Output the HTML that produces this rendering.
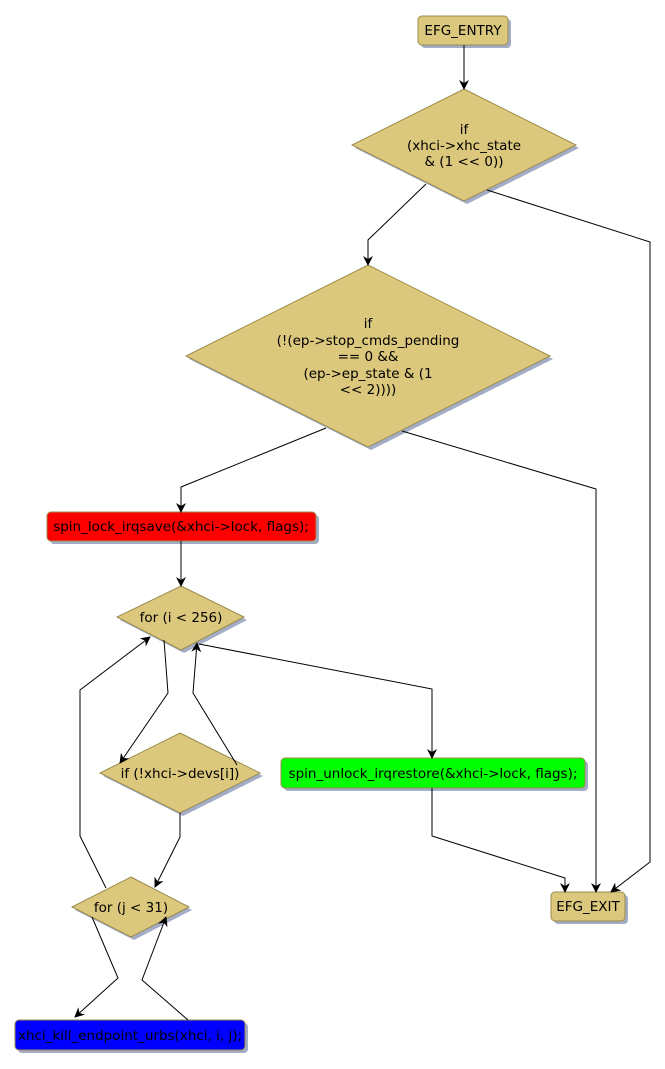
<!DOCTYPE html>
<html><head><meta charset="utf-8"><style>
html,body{margin:0;padding:0;background:#fff;}
svg{display:block;font-family:"DejaVu Sans","Liberation Sans",sans-serif;}
</style></head><body>
<svg width="665" height="1069" viewBox="0 0 665 1069" xmlns="http://www.w3.org/2000/svg">
<defs>
<marker id="a" markerWidth="10" markerHeight="10" refX="9" refY="5" orient="auto" markerUnits="userSpaceOnUse">
<path d="M0,0 L10,5 L0,10 L3,5 z" fill="#000"/>
</marker>
</defs>
<g fill="#a3adc6">
<rect x="421" y="19" width="90" height="29" rx="4"/>
<polygon points="467,92 579,148 467,204 355,148"/>
<polygon points="371,268 553,359 371,450 189,359"/>
<rect x="50" y="515" width="269" height="29" rx="4"/>
<polygon points="184,589 247,620 184,653 120,620"/>
<polygon points="183,736 263,776 183,816 103,776"/>
<rect x="284" y="761" width="304" height="30" rx="4"/>
<polygon points="134,880 192,910 134,940 75,910"/>
<rect x="18" y="1023" width="230" height="30" rx="4"/>
<rect x="554" y="895" width="74" height="29" rx="4"/>
</g>
<g stroke="#9c8a4e" stroke-width="1">
<rect x="418" y="16" width="90" height="29" rx="4" fill="#dbc87c"/>
<polygon points="464,89 576,145 464,201 352,145" fill="#dbc87c"/>
<polygon points="368,265 550,356 368,447 186,356" fill="#dbc87c"/>
<rect x="47" y="512" width="269" height="29" rx="4" fill="#ff0000"/>
<polygon points="181,586 244,617 181,650 117,617" fill="#dbc87c"/>
<polygon points="180,733 260,773 180,813 100,773" fill="#dbc87c"/>
<rect x="281" y="758" width="304" height="30" rx="4" fill="#00ff00"/>
<polygon points="131,877 189,907 131,937 72,907" fill="#dbc87c"/>
<rect x="15" y="1020" width="230" height="30" rx="4" fill="#0000ff"/>
<rect x="551" y="892" width="74" height="29" rx="4" fill="#dbc87c"/>
</g>
<g stroke="#000" stroke-width="1" fill="none" marker-end="url(#a)">
<polyline points="464,45 464,89"/>
<polyline points="426,184 368,240 368,265"/>
<polyline points="487,190 650,242 650,862 611,892"/>
<polyline points="326,428 181,487 181,512"/>
<polyline points="402,431 596,489 596,892"/>
<polyline points="181,541 181,586"/>
<polyline points="164,640 168,693 120,763"/>
<polyline points="237,765 193,693 197,643"/>
<polyline points="199,644 432,689 432,758"/>
<polyline points="432,788 432,836 565,878 565,892"/>
<polyline points="180,813 180,837 155,887"/>
<polyline points="106,888 80,836 80,690 150,637"/>
<polyline points="92,917 118,978 75,1017"/>
<polyline points="188,1020 142,980 166,917"/>
</g>
<g font-size="13.5" fill="#000" text-anchor="middle">
<text x="463" y="35">EFG_ENTRY</text>
<text x="464" y="134">if</text>
<text x="464" y="150">(xhci-&gt;xhc_state</text>
<text x="464" y="166">&amp; (1 &lt;&lt; 0))</text>
<text x="368" y="328">if</text>
<text x="368" y="345">(!(ep-&gt;stop_cmds_pending</text>
<text x="368" y="361">== 0 &amp;&amp;</text>
<text x="368" y="378">(ep-&gt;ep_state &amp; (1</text>
<text x="368" y="394">&lt;&lt; 2))))</text>
<text x="181" y="531">spin_lock_irqsave(&amp;xhci-&gt;lock, flags);</text>
<text x="181" y="622">for (i &lt; 256)</text>
<text x="180" y="778">if (!xhci-&gt;devs[i])</text>
<text x="433" y="778">spin_unlock_irqrestore(&amp;xhci-&gt;lock, flags);</text>
<text x="131" y="912">for (j &lt; 31)</text>
<text x="130" y="1040">xhci_kill_endpoint_urbs(xhci, i, j);</text>
<text x="588" y="911">EFG_EXIT</text>
</g>
</svg>
</body></html>
